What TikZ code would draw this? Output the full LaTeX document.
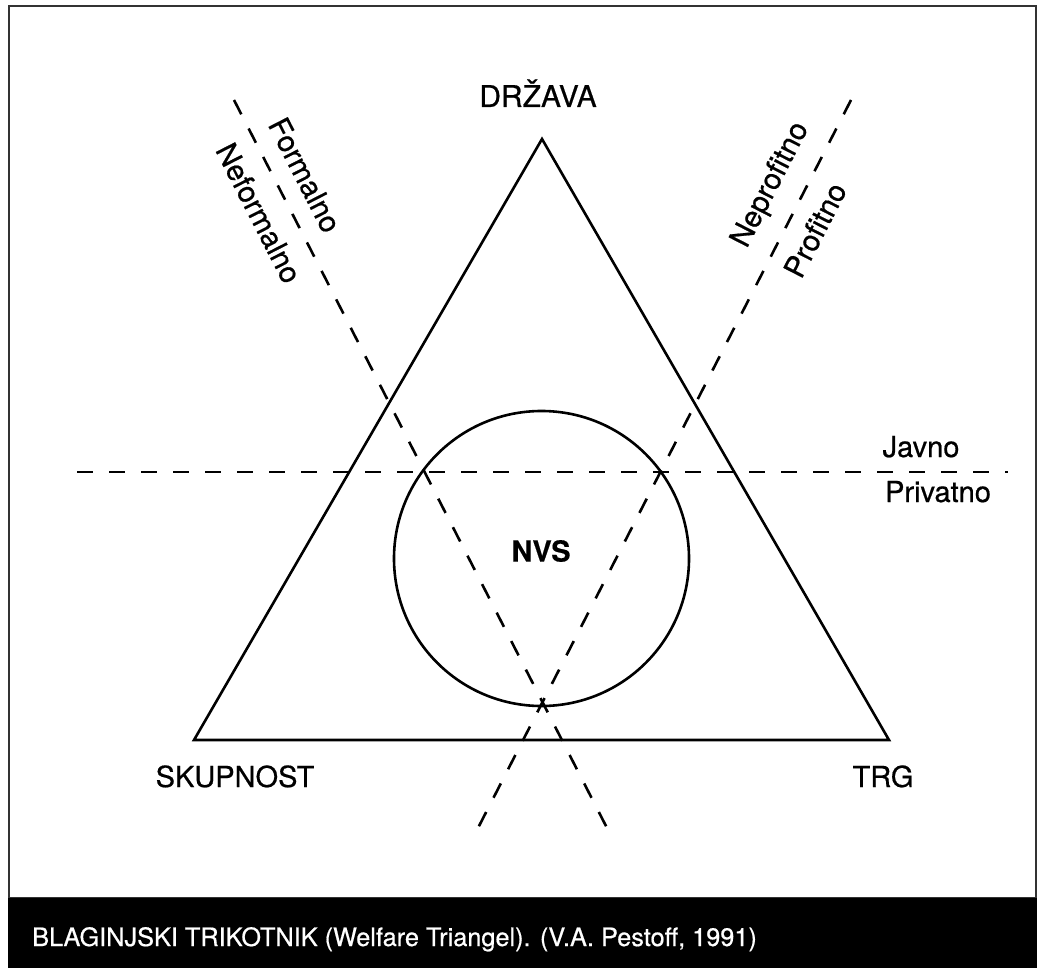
\documentclass[tikz,border=0pt]{standalone}
\usepackage{fontspec}
\setmainfont{TeX Gyre Heros}[FakeBold=0.6]
\newfontfamily\boldheros{TeX Gyre Heros Bold}[FakeBold=0.3]
\begin{document}
\begin{tikzpicture}[x=1pt,y=-1pt,
  solidline/.style={line width=2.6pt,black},
  dashline/.style={line width=2.6pt,black,dash pattern=on 16pt off 16pt},
  lbl/.style={font=\fontsize{29}{34}\selectfont,inner sep=0pt,anchor=base},
  rlbl/.style={font=\fontsize{29.5}{34}\selectfont,inner sep=0pt,anchor=center}]
\useasboundingbox (0,0) rectangle (1041,968);
% frame and caption bar
\coordinate (fTL) at (9,6);
\coordinate (fBR) at (1036,898);
\draw[line width=2pt,black!80] (fTL) rectangle (fBR);
\coordinate (bTL) at (8,898);
\coordinate (bBR) at (1037,968);
\fill[black] (bTL) rectangle (bBR);
\node[font=\fontsize{25.3}{28}\selectfont,text=white,inner sep=0pt,anchor=base west] (cap) at (32,946) {BLAGINJSKI TRIKOTNIK (Welfare Triangel). (V.A. Pestoff, 1991)};
% triangle
\coordinate (apex) at (542,139);
\coordinate (bl) at (194,740);
\coordinate (br) at (889,740);
\draw[solidline,line join=miter] (apex) -- (br) -- (bl) -- cycle;
% circle
\coordinate (cc) at (541.5,558.5);
\draw[solidline] (cc) circle[radius=147.5];
% dashed lines
\coordinate (hA) at (77,472);
\coordinate (hB) at (1008,472);
\draw[dashline] (hA) -- (hB);
\coordinate (lA) at (234,100);
\coordinate (lB) at (607,828);
\draw[dashline] (lA) -- (lB);
\coordinate (rA) at (851,100);
\coordinate (rB) at (478,828);
\draw[dashline] (rA) -- (rB);
% labels
\node[lbl,font=\fontsize{30}{34}\selectfont] (drzava) at (538,107) {DRŽAVA};
\node[lbl] (skup) at (235,787) {SKUPNOST};
\node[lbl] (trg) at (883,787) {TRG};
\node[lbl] (javno) at (921,457) {Javno};
\node[lbl] (priv) at (938,502) {Privatno};
\node[rlbl,font=\fontsize{29}{32}\selectfont\boldheros] (nvs) at (541,551) {NVS};
\node[rlbl,rotate=-62.9] (form) at (305,175) {Formalno};
\node[rlbl,rotate=-62.9] (nform) at (259,213) {Neformalno};
\node[rlbl,rotate=62.9] (nprof) at (771,185) {Neprofitno};
\node[rlbl,rotate=62.9] (prof) at (815,230) {Profitno};
\end{tikzpicture}
\end{document}
